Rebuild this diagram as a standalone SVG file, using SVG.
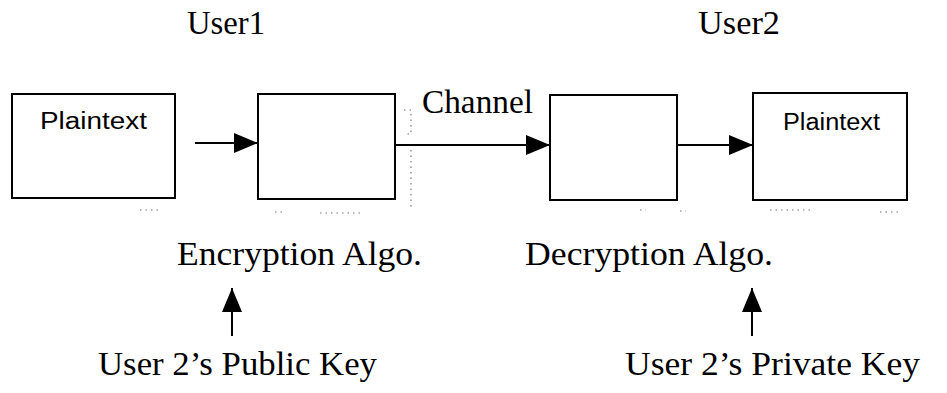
<svg xmlns="http://www.w3.org/2000/svg" width="947" height="393" viewBox="0 0 947 393">
  <defs>
    <marker id="arrow" viewBox="0 0 24 20" refX="24" refY="10" markerWidth="24" markerHeight="20" markerUnits="userSpaceOnUse" orient="auto">
      <path d="M0,0 L24,10 L0,20 Z" fill="#000"/>
    </marker>
    <style>
      .box { fill: #fff; stroke: #000; stroke-width: 2; }
      .link { stroke: #000; stroke-width: 2; fill: none; marker-end: url(#arrow); }
      .serif { font-family: "Liberation Serif", "Times New Roman", serif; font-size: 33px; fill: #000; }
      .sans { font-family: "Liberation Sans", Arial, sans-serif; font-size: 23px; fill: #000; }
      .speck { stroke: #777; stroke-width: 1.2; fill: none; stroke-dasharray: 1.5 4; }
    </style>
  </defs>

  <rect width="947" height="393" fill="#fff"/>

  <!-- user headings -->
  <text class="serif" x="187" y="34" textLength="78" lengthAdjust="spacingAndGlyphs">User1</text>
  <text class="serif" x="698" y="34" textLength="82" lengthAdjust="spacingAndGlyphs">User2</text>

  <!-- nodes -->
  <g id="plaintext-in">
    <rect class="box" x="12" y="94" width="163" height="104"/>
    <text class="sans" x="40" y="129" textLength="107" lengthAdjust="spacingAndGlyphs">Plaintext</text>
  </g>
  <g id="encryption">
    <rect class="box" x="258" y="94" width="137" height="105"/>
    <text class="serif" x="177" y="265" textLength="245" lengthAdjust="spacingAndGlyphs">Encryption Algo.</text>
  </g>
  <g id="decryption">
    <rect class="box" x="550" y="95" width="127" height="105"/>
    <text class="serif" x="525" y="265" textLength="248" lengthAdjust="spacingAndGlyphs">Decryption Algo.</text>
  </g>
  <g id="plaintext-out">
    <rect class="box" x="753" y="93" width="154" height="107"/>
    <text class="sans" x="783" y="130" textLength="97" lengthAdjust="spacingAndGlyphs">Plaintext</text>
  </g>
  <g id="public-key">
    <text class="serif" x="98" y="375" textLength="279" lengthAdjust="spacingAndGlyphs">User 2’s Public Key</text>
  </g>
  <g id="private-key">
    <text class="serif" x="625" y="375" textLength="295" lengthAdjust="spacingAndGlyphs">User 2’s Private Key</text>
  </g>

  <!-- connectors -->
  <g id="connectors">
    <line class="link" x1="195" y1="143" x2="258" y2="143"/>
    <line class="link" x1="395" y1="145" x2="550" y2="145"/>
    <text class="serif" x="422" y="113" textLength="111" lengthAdjust="spacingAndGlyphs">Channel</text>
    <line class="link" x1="677" y1="145" x2="753" y2="145"/>
    <line class="link" x1="232" y1="336" x2="232" y2="288"/>
    <line class="link" x1="752" y1="336" x2="752" y2="288"/>
  </g>

  <!-- faint scan marks -->
  <path class="speck" d="M404,110 h7 v24 h-7 M411,150 v60"/>
  <path class="speck" d="M140,210 h20 M275,212 h10 M320,213 h40 M640,210 h6 M680,211 h6 M770,210 h40 M880,212 h20"/>
</svg>
